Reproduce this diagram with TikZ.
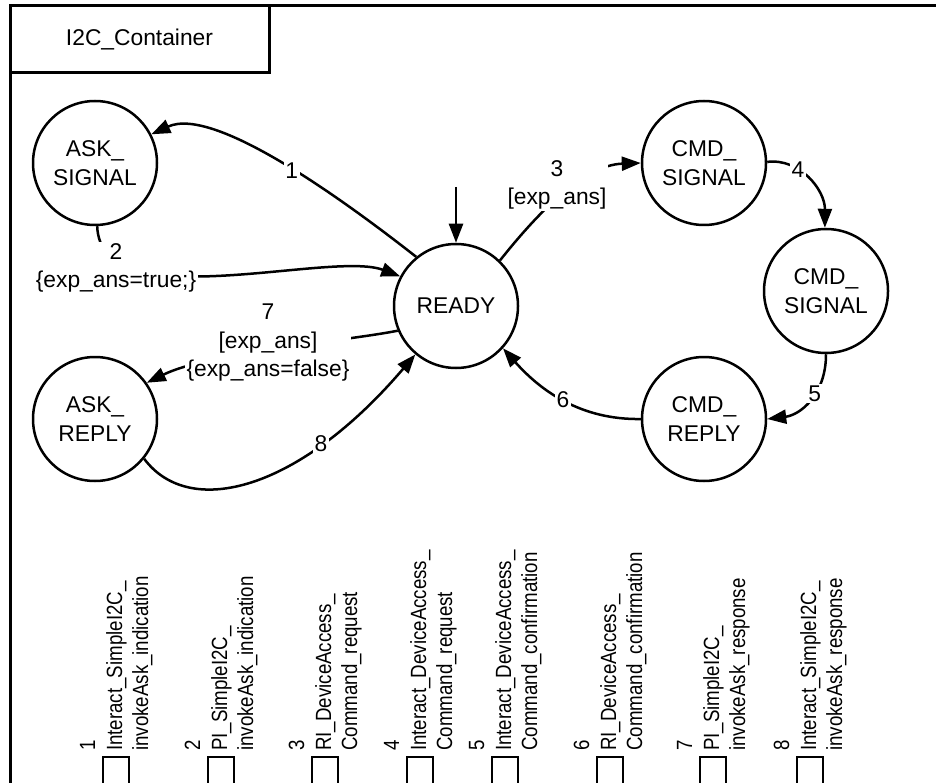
\documentclass[tikz,border=0pt]{standalone}
\usepackage{fontspec}
\setmainfont{Liberation Sans}
\usetikzlibrary{arrows.meta}

% one legend column: open square, number and two rotated lines of text
\newcommand{\legendentry}[4]{%
  \draw[legsq] (#1,800) -- (#1,757) -- ({#1+26},757) -- ({#1+26},800);
  \node[legtxt] (num#2) at ({#1-8},751) {#2};
  \node[legtxt] (lineA#2) at ({#1+19},751) {#3};
  \node[legtxt] (lineB#2) at ({#1+45},751) {#4};
}

\begin{document}
\begin{tikzpicture}[x=1pt,y=-1pt,
  every node/.style={font=\fontsize{22.8}{28.5}\selectfont},
  statecircle/.style={draw, circle, line width=2.5pt, minimum size=124pt,
    inner sep=0pt, align=center},
  trans/.style={line width=2.5pt, -{Triangle[length=19pt,width=14pt]}},
  lbl/.style={fill=white, inner sep=1.5pt, align=center},
  legtxt/.style={rotate=90, xscale=0.85, inner sep=0pt, anchor=base west,
    font=\fontsize{22}{26}\selectfont},
  legsq/.style={line width=2.5pt},
  containerframe/.style={line width=3pt}]

\useasboundingbox (0,0) rectangle (936,783);

% container frame and its title tab
\draw[containerframe] (10,820) -- (10,6) -- (960,6);
\draw[containerframe] (10,6) rectangle (269,73);
\node (title) at (139.5,39.5) {I2C\_Container};

% states
\node[statecircle] (asksig) at (95,163) {ASK\_\\SIGNAL};
\node[statecircle] (askrep) at (95,419) {ASK\_\\REPLY};
\node[statecircle] (ready)  at (456,306) {READY};
\node[statecircle] (cmdsigA) at (704,163) {CMD\_\\SIGNAL};
\node[statecircle] (cmdsigB) at (826,291) {CMD\_\\SIGNAL};
\node[statecircle] (cmdrep) at (704,419) {CMD\_\\REPLY};

% initial transition
\coordinate (init) at (456,187);
\draw[trans] (init) -- (ready.north);

% transitions
\draw[trans] (ready.129) .. controls (350,205) and (215,105) .. (asksig.27)
  node[lbl, pos=0.47] (t1) {1};
\draw[trans] (asksig.-88) .. controls (100,320) and (330,250) .. (ready.152);
\draw[trans] (ready.46) .. controls (540,210) and (585,165) .. (cmdsigA.180);
\draw[trans] (cmdsigA.1) .. controls (800,158) and (825,190) .. (cmdsigB.91)
  node[lbl, pos=0.35] (t4) {4};
\draw[trans] (cmdsigB.-90) .. controls (826,395) and (800,415) .. (cmdrep.0)
  node[lbl, pos=0.4] (t5) {5};
\draw[trans] (cmdrep.180) .. controls (580,420) and (540,390) .. (ready.-42)
  node[lbl, pos=0.5] (t6) {6};
\draw[trans] (ready.203) .. controls (340,342) and (210,352) .. (askrep.35);
\draw[trans] (askrep.-39) .. controls (190,520) and (300,490) .. (ready.230)
  node[lbl, pos=0.72] (t8) {8};

% multi-line transition labels
\node[lbl] (t2) at (116,268) {2\\\{exp\_ans=true;\}};
\node[lbl] (t3) at (557,185) {3\\{[}exp\_ans{]}};
\node[lbl] (t7) at (268,343) {7\\{[}exp\_ans{]}\\\{exp\_ans=false\}};

% legend
\legendentry{103}{1}{Interact\_SimpleI2C\_}{invokeAsk\_indication}
\legendentry{208}{2}{PI\_SimpleI2C\_}{invokeAsk\_indication}
\legendentry{312}{3}{RI\_DeviceAccess\_}{Command\_request}
\legendentry{407}{4}{Interact\_DeviceAccess\_}{Command\_request}
\legendentry{492}{5}{Interact\_DeviceAccess\_}{Command\_confirmation}
\legendentry{597}{6}{RI\_DeviceAccess\_}{Command\_confirmation}
\legendentry{700}{7}{PI\_SimpleI2C\_}{invokeAsk\_response}
\legendentry{797}{8}{Interact\_SimpleI2C\_}{invokeAsk\_response}

\end{tikzpicture}
\end{document}
